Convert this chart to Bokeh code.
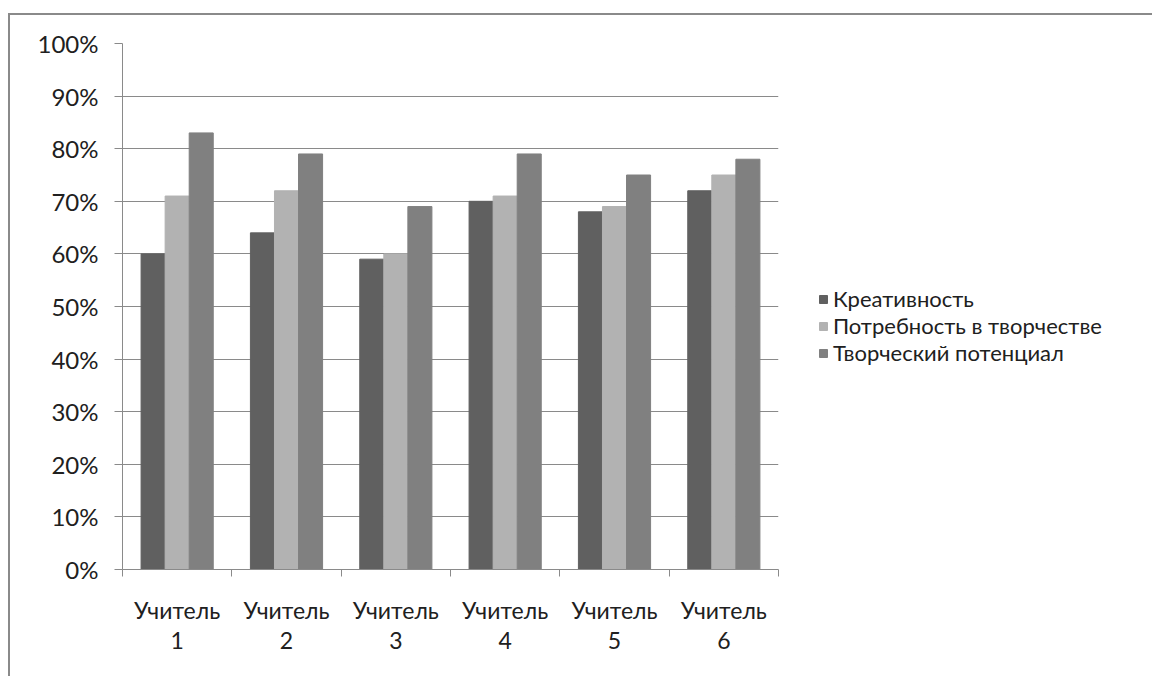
from bokeh.plotting import figure
from bokeh.models import ColumnDataSource, FixedTicker, Legend, LegendItem, Range1d, NumeralTickFormatter
from bokeh.embed import file_html
from bokeh.resources import INLINE

categories = ["Учитель\n1", "Учитель\n2", "Учитель\n3", "Учитель\n4", "Учитель\n5", "Учитель\n6"]
series_names = ["Креативность", "Потребность в творчестве", "Творческий потенциал"]
kreativnost = [0.60, 0.64, 0.59, 0.70, 0.68, 0.72]
potrebnost = [0.71, 0.72, 0.60, 0.71, 0.69, 0.75]
potencial = [0.83, 0.79, 0.69, 0.79, 0.75, 0.78]
colors = ["#606060", "#b2b2b2", "#808080"]
y_ticks = [0.0, 0.1, 0.2, 0.3, 0.4, 0.5, 0.6, 0.7, 0.8, 0.9, 1.0]

FONT = "Lato"
n = len(categories)
centers = [i + 0.5 for i in range(n)]

p = figure(frame_width=656, frame_height=526, output_backend="svg", toolbar_location=None,
           x_range=Range1d(0, n), y_range=Range1d(0, 1.0))
p.min_border_left = 112
p.min_border_top = 28
p.min_border_bottom = 107
p.min_border_right = 5
p.outline_line_color = None
p.background_fill_color = "white"
p.border_fill_color = "white"
p.styles = {"margin-top": "13px", "margin-left": "8px",
            "border-top": "2px solid #8a8a8a", "border-left": "2px solid #8a8a8a"}

bw = 0.22
offsets = [-bw, 0.0, bw]
renderers = []
for vals, off, col in zip([kreativnost, potrebnost, potencial], offsets, colors):
    src = ColumnDataSource(dict(x=[c + off for c in centers], top=vals))
    r = p.vbar(x="x", top="top", width=bw, bottom=0, source=src,
               fill_color=col, line_color=col, line_width=1)
    renderers.append(r)

# y axis
p.yaxis.ticker = FixedTicker(ticks=y_ticks)
p.yaxis.formatter = NumeralTickFormatter(format="0%")
p.yaxis.axis_line_color = "#8a8a8a"
p.yaxis.major_tick_line_color = "#8a8a8a"
p.yaxis.major_tick_out = 8
p.yaxis.major_tick_in = 0
p.yaxis.minor_tick_line_color = None
p.yaxis.major_label_text_font = FONT
p.yaxis.major_label_text_font_size = "24px"
p.yaxis.major_label_text_color = "#202020"
p.yaxis.major_label_standoff = 16

# x axis
p.xaxis.ticker = FixedTicker(ticks=centers, minor_ticks=list(range(n + 1)))
p.xaxis.major_label_overrides = {c: lab for c, lab in zip(centers, categories)}
p.xaxis.axis_line_color = "#8a8a8a"
p.xaxis.major_tick_line_color = None
p.xaxis.minor_tick_line_color = "#8a8a8a"
p.xaxis.minor_tick_out = 7
p.xaxis.minor_tick_in = 0
p.xaxis.major_label_text_font = FONT
p.xaxis.major_label_text_font_size = "23px"
p.xaxis.major_label_text_color = "#202020"
p.xaxis.major_label_standoff = 19
p.xaxis.major_label_text_line_height = 1.09

p.xgrid.grid_line_color = None
p.ygrid.ticker = FixedTicker(ticks=y_ticks)
p.ygrid.grid_line_color = "#8a8a8a"
p.ygrid.grid_line_width = 1

legend = Legend(items=[LegendItem(label=nm, renderers=[r]) for nm, r in zip(series_names, renderers)],
                location=(40, 203))
legend.label_text_font = FONT
legend.label_text_font_size = "22px"
legend.label_text_color = "#202020"
legend.glyph_width = 10
legend.glyph_height = 10
legend.label_height = 26
legend.spacing = 0
legend.padding = 0
legend.margin = 0
legend.label_standoff = 5
legend.border_line_color = None
legend.background_fill_alpha = 0
p.add_layout(legend, "right")

open("out.html", "w").write(file_html(p, INLINE))
